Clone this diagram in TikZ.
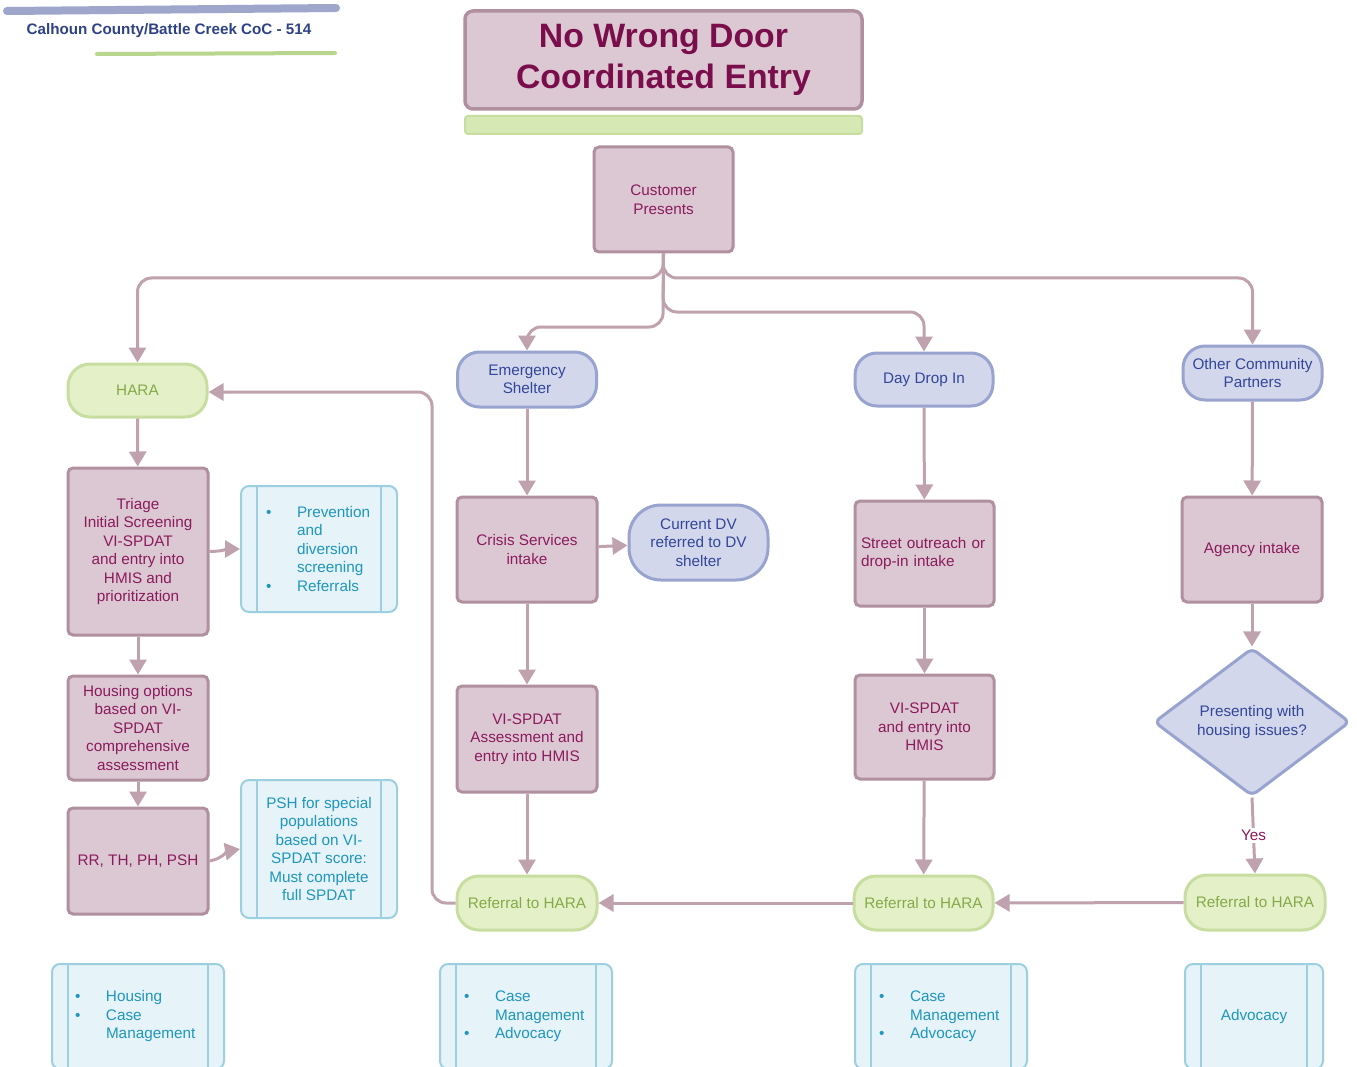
\documentclass[tikz,border=0pt]{standalone}
\usepackage{fontspec}
\setmainfont{Liberation Sans}
\usetikzlibrary{arrows.meta,shapes.geometric}
\newcommand\fsz[2]{\fontsize{#1}{#2}\selectfont}
\definecolor{mfill}{HTML}{DCC8D2}
\definecolor{mborder}{HTML}{B0909F}
\definecolor{mtext}{HTML}{8B1A5E}
\definecolor{ttext}{HTML}{7A0E4C}
\definecolor{cline}{HTML}{BFA2AE}
\definecolor{gfill}{HTML}{E4F0C8}
\definecolor{gborder}{HTML}{C8DEA0}
\definecolor{gtext}{HTML}{84AA48}
\definecolor{bfill}{HTML}{D3D7EB}
\definecolor{bborder}{HTML}{98A3CF}
\definecolor{btext}{HTML}{32469A}
\definecolor{lfill}{HTML}{E6F3F8}
\definecolor{lborder}{HTML}{9CD0E0}
\definecolor{ltext}{HTML}{1E96BE}
\definecolor{htext}{HTML}{2E4286}
\definecolor{hbar}{HTML}{9EA6CC}
\definecolor{gbar}{HTML}{D6E8B4}
\definecolor{gline}{HTML}{B9D68F}
\tikzset{
  sz/.style 2 args={minimum width=#1, minimum height=#2},
  base/.style={line width=2.5pt, align=center, inner sep=0pt, font=\fsz{15.3}{18.5}},
  pbox/.style={base, line width=3pt, draw=mborder, fill=mfill, text=mtext, rounded corners=5pt},
  gpill/.style={base, line width=3pt, draw=gborder, fill=gfill, text=gtext, rounded corners=22pt},
  bpill/.style={base, line width=3pt, draw=bborder, fill=bfill, text=btext, rounded corners=22pt},
  lbox/.style={base, line width=2pt, draw=lborder, fill=lfill, text=ltext, rounded corners=8pt,
    path picture={
      \draw[lborder, line width=2pt] ([xshift=16pt]path picture bounding box.north west) -- ([xshift=16pt]path picture bounding box.south west);
      \draw[lborder, line width=2pt] ([xshift=-16pt]path picture bounding box.north east) -- ([xshift=-16pt]path picture bounding box.south east);
    }},
  conn/.style={draw=cline, line width=3pt, -{Triangle[width=17pt,length=15pt,fill=cline]}},
  trunk/.style={conn, rounded corners=14pt},
}
\newcommand\bul{\makebox[31pt][l]{\textbullet}}
\newcommand\ind{\hspace*{31pt}}
\begin{document}
\begin{tikzpicture}[x=1pt,y=-1pt]
\path[use as bounding box, fill=white] (0,0) rectangle (1357,1067);
\clip (0,0) rectangle (1357,1067);

% header
\draw[hbar, line width=8pt, line cap=round] (7,11) -- (336,8);
\draw[gline, line width=4pt, line cap=round] (97,54) -- (335,53);
\node[font=\bfseries\fsz{15.2}{18}, text=htext, inner sep=0pt] (hdr) at (169,31) {Calhoun County/Battle Creek CoC - 514};

% title
\node[base, draw=mborder, fill=mfill, text=ttext, rounded corners=8pt, line width=3.5pt,
      sz={397}{98}, font=\bfseries\fsz{33.8}{41}] (title) at (663.5,60) {No Wrong Door\\Coordinated Entry};
\node[draw=gborder, fill=gbar, line width=2pt, rounded corners=3pt, sz={397}{18}, inner sep=0pt] (gbar) at (663.5,125) {};

% nodes
\node[pbox, sz={139}{105}] (cust) at (663.5,199.5) {Customer\\Presents};

\node[gpill, sz={139}{53}] (hara) at (137.5,390.5) {HARA};
\node[bpill, sz={139}{55}] (emerg) at (527,379.5) {Emergency\\Shelter};
\node[bpill, sz={138}{53}] (day) at (924,379.5) {Day Drop In};
\node[bpill, sz={139}{54}] (other) at (1252.5,373) {Other Community\\Partners};

\node[pbox, sz={140}{167}] (triage) at (138,551.5) {Triage\\Initial Screening\\VI-SPDAT\\and entry into\\HMIS and\\prioritization};
\node[lbox, sz={156}{126}, text width=106pt, inner xsep=25pt, align=left] (prev) at (319,549)
  {\bul Prevention\\\ind and\\\ind diversion\\\ind screening\\\bul Referrals};
\node[pbox, sz={140}{104}] (housing) at (138,728) {Housing options\\based on VI-\\SPDAT\\comprehensive\\assessment};
\node[pbox, sz={140}{106}] (rr) at (138,861) {RR, TH, PH, PSH};
\node[lbox, sz={156}{138}] (psh) at (319,849) {PSH for special\\populations\\based on VI-\\SPDAT score:\\Must complete\\full SPDAT};

\node[pbox, sz={140}{105}] (crisis) at (527,549.5) {Crisis Services\\intake};
\node[bpill, sz={139}{75}, rounded corners=32pt] (dv) at (698.5,542.5) {Current DV\\referred to DV\\shelter};
\node[pbox, sz={140}{106}] (vis1) at (527,739) {VI-SPDAT\\Assessment and\\entry into HMIS};
\node[gpill, sz={140}{54}] (ref1) at (527,903) {Referral to HARA};

\node[pbox, sz={139}{105}, text width=127pt, inner xsep=6pt, align=left] (street) at (924.5,553.5) {Street outreach or\\drop-in intake};
\node[pbox, sz={139}{104}] (vis2) at (924.5,727) {VI-SPDAT\\and entry into\\HMIS};
\node[gpill, sz={139}{54}] (ref2) at (923.5,903) {Referral to HARA};

\node[pbox, sz={140}{105}] (agency) at (1252,549.5) {Agency intake};
\node[base, line width=3pt, diamond, draw=bborder, fill=bfill, text=btext, rounded corners=6pt, sz={196}{148}] (dia) at (1252,722) {Presenting with\\housing issues?};
\node[gpill, sz={140}{55}] (ref3) at (1255,902.5) {Referral to HARA};

\node[lbox, sz={172}{105}, text width=126pt, inner xsep=23pt, align=left] (b1) at (138,1016.5)
  {\bul Housing\\\bul Case\\\ind Management};
\node[lbox, sz={172}{105}, text width=124pt, inner xsep=24pt, align=left] (b2) at (526,1016.5)
  {\bul Case\\\ind Management\\\bul Advocacy};
\node[lbox, sz={172}{105}, text width=124pt, inner xsep=24pt, align=left] (b3) at (941,1016.5)
  {\bul Case\\\ind Management\\\bul Advocacy};
\node[lbox, sz={138}{105}] (b4) at (1254,1016.5) {Advocacy};

% junction coordinates
\coordinate (j1) at (663,278);
\coordinate (j2) at (663,312);
\coordinate (j3) at (663,327);

% trunk connectors
\draw[trunk] (cust.south) -- (j1) -| (hara.north);
\draw[trunk] (cust.south) -- (j1) -| (other.north);
\draw[trunk] (cust.south) -- (j2) -| (day.north);
\draw[trunk] (cust.south) -- (j3) -| (emerg.north);

% column connectors
\draw[conn] (hara) -- (triage);
\draw[conn] (triage.east) to[out=0,in=180] (prev.west);
\draw[conn] (triage) -- (housing);
\draw[conn] (housing) -- (rr);
\draw[conn] (rr.east) to[out=10,in=190] (psh.west);

\draw[conn] (emerg) -- (crisis);
\draw[conn] (crisis) -- (dv);
\draw[conn] (crisis) -- (vis1);
\draw[conn] (vis1) -- (ref1);

\draw[conn] (day) -- (street);
\draw[conn] (street) -- (vis2);
\draw[conn] (vis2) -- (ref2);

\draw[conn] (other) -- (agency);
\draw[conn] (agency) -- (dia);
\draw[conn] (dia.south) -- node[fill=white, text=mtext, font=\fsz{15.3}{18}, inner sep=2pt] (yes) {Yes} (ref3.north);

\draw[conn] (ref3) -- (ref2);
\draw[conn] (ref2) -- (ref1);
\draw[conn, rounded corners=14pt] (ref1.west) -| (432,392) -- (hara.east |- 0,392);
\end{tikzpicture}
\end{document}
